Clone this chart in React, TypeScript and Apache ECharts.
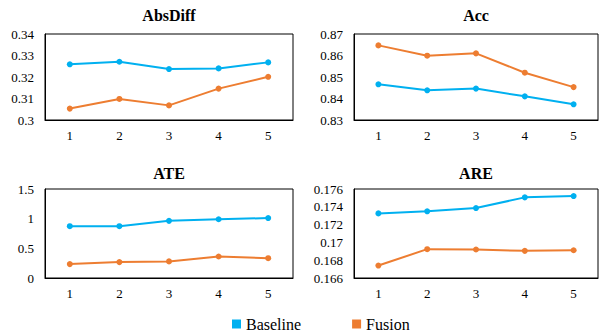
import React, { useEffect, useRef } from "react";
import * as echarts from "echarts";

const categories = ["1", "2", "3", "4", "5"];

const absDiffBaseline = [0.3259, 0.3271, 0.3237, 0.324, 0.3268];
const absDiffFusion = [0.3053, 0.3098, 0.3068, 0.3146, 0.3201];

const accBaseline = [0.8466, 0.8438, 0.8446, 0.841, 0.8373];
const accFusion = [0.8647, 0.8599, 0.861, 0.852, 0.8453];

const ateBaseline = [0.873, 0.873, 0.963, 0.99, 1.01];
const ateFusion = [0.234, 0.268, 0.28, 0.362, 0.334];

const areBaseline = [0.17326, 0.17349, 0.17386, 0.17506, 0.17521];
const areFusion = [0.1674, 0.16924, 0.1692, 0.16905, 0.16912];

const panelTitles = ["AbsDiff", "Acc", "ATE", "ARE"];
const yMins = [0.3, 0.83, 0, 0.166];
const yMaxs = [0.34, 0.87, 1.5, 0.176];
const yIntervals = [0.01, 0.01, 0.5, 0.002];

const BLUE = "#00b0f0";
const ORANGE = "#ed7d31";
const FONT = "Liberation Serif";

export default function App() {
  const ref = useRef<HTMLDivElement>(null);

  useEffect(() => {
    if (!ref.current) return;
    const chart = echarts.init(ref.current, undefined, { renderer: "svg" });

    const grids = [
      { left: 45, top: 34, width: 248, height: 86 },
      { left: 354, top: 34, width: 244, height: 86 },
      { left: 45, top: 189, width: 248, height: 89 },
      { left: 354, top: 189, width: 244, height: 89 },
    ];
    const baselineData = [absDiffBaseline, accBaseline, ateBaseline, areBaseline];
    const fusionData = [absDiffFusion, accFusion, ateFusion, areFusion];

    const series: any[] = [];
    for (let i = 0; i < 4; i++) {
      series.push({
        name: "Baseline",
        type: "line",
        xAxisIndex: i,
        yAxisIndex: i,
        data: baselineData[i],
        symbol: "circle",
        symbolSize: 6,
        lineStyle: { color: BLUE, width: 2 },
        itemStyle: { color: BLUE },
      });
      series.push({
        name: "Fusion",
        type: "line",
        xAxisIndex: i,
        yAxisIndex: i,
        data: fusionData[i],
        symbol: "circle",
        symbolSize: 6,
        lineStyle: { color: ORANGE, width: 2 },
        itemStyle: { color: ORANGE },
      });
    }

    const titleCenters = [
      [169, 15.5],
      [476, 15.5],
      [169, 173.5],
      [476, 173.5],
    ];

    chart.setOption({
      animation: false,
      backgroundColor: "#fff",
      textStyle: { fontFamily: FONT },
      grid: grids.map((g) => ({
        ...g,
        show: true,
        borderColor: "#000",
        borderWidth: 1,
        backgroundColor: "transparent",
      })),
      xAxis: grids.map((_, i) => ({
        type: "category",
        gridIndex: i,
        data: categories,
        boundaryGap: true,
        axisTick: { show: false },
        axisLine: { lineStyle: { color: "#000", width: 1 } },
        axisLabel: { color: "#000", fontSize: 13, fontFamily: FONT, margin: 9 },
        splitLine: { show: false },
      })),
      yAxis: grids.map((_, i) => ({
        type: "value",
        gridIndex: i,
        min: yMins[i],
        max: yMaxs[i],
        interval: yIntervals[i],
        axisTick: { show: false },
        axisLine: { show: true, lineStyle: { color: "#000", width: 1 } },
        axisLabel: { color: "#000", fontSize: 13, fontFamily: FONT, margin: 11 },
        splitLine: { show: false },
      })),
      legend: {
        data: ["Baseline", "Fusion"],
        left: 227,
        top: 311,
        icon: "rect",
        itemWidth: 9,
        itemHeight: 9,
        itemGap: 51,
        textStyle: { color: "#000", fontSize: 16, fontFamily: FONT },
      },
      graphic: panelTitles.map((t, i) => ({
        type: "text",
        x: titleCenters[i][0],
        y: titleCenters[i][1],
        style: {
          text: t,
          fontFamily: FONT,
          fontSize: 16,
          fontWeight: "bold",
          fill: "#000",
          align: "center",
          verticalAlign: "middle",
        },
      })),
      series,
    });

    return () => chart.dispose();
  }, []);

  return (
    <div
      ref={ref}
      style={{ position: "absolute", left: 0, top: 0, width: 601, height: 333 }}
    />
  );
}
